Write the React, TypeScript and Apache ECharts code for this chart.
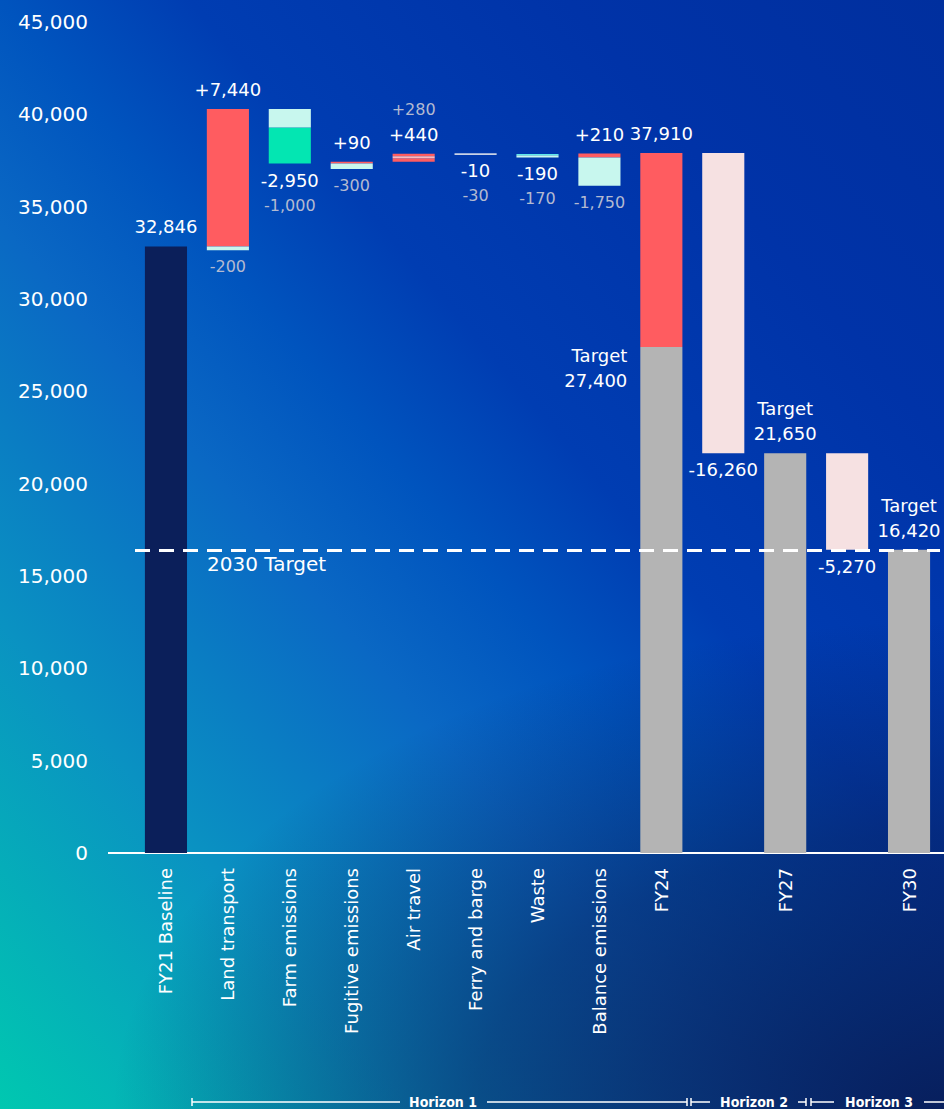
import React, { useEffect, useRef } from "react";
import * as echarts from "echarts";

// ---------- DATA ----------
const categories = [
  "FY21 Baseline",
  "Land transport",
  "Farm emissions",
  "Fugitive emissions",
  "Air travel",
  "Ferry and barge",
  "Waste",
  "Balance emissions",
  "FY24",
  "",
  "FY27",
  "",
  "FY30",
];

const yMax = 45000;
const yStep = 5000;

// segments: [categoryIndex, low, high]
const baselineBars = [[0, 0, 32846]];
const increaseBars = [
  [1, 32846, 40286],
  [3, 37336, 37426],
  [4, 37426, 37626],
  [4, 37736, 37866],
  [7, 37666, 37876],
  [8, 27400, 37910],
];
const increaseSubBars = [[4, 37626, 37736]];
const decreaseBars = [[2, 37336, 39286]];
const decreaseSubBars = [
  [1, 32646, 32846],
  [2, 39286, 40286],
  [3, 37036, 37336],
  [6, 37666, 37786],
  [7, 36126, 37666],
];
const wasteTopBars = [[6, 37786, 37856]];
const ferryBars = [[5, 37826, 37866]];
const targetBars = [
  [8, 0, 27400],
  [10, 0, 21650],
  [12, 0, 16420],
];
const gapBars = [
  [9, 21650, 37910],
  [11, 16420, 21650],
];
const target2030 = 16420;
const target2030Name = "2030 Target";

// labels: [categoryIndex, anchorValue, text, placement, tone]
const valueLabels: [number, number, string, string, string][] = [
  [0, 32846, "32,846", "above", "main"],
  [1, 40286, "+7,440", "above", "main"],
  [1, 32646, "-200", "below", "sub"],
  [2, 37336, "-2,950", "below", "main"],
  [2, 37336, "-1,000", "below2", "sub"],
  [3, 37426, "+90", "above", "main"],
  [3, 37036, "-300", "below", "sub"],
  [4, 37866, "+440", "above", "main"],
  [4, 37866, "+280", "above2", "sub"],
  [5, 37826, "-10", "below", "main"],
  [5, 37826, "-30", "below2", "sub"],
  [6, 37666, "-190", "below", "main"],
  [6, 37666, "-170", "below2", "sub"],
  [7, 37876, "+210", "above", "main"],
  [7, 36126, "-1,750", "below", "sub"],
  [8, 37910, "37,910", "above", "main"],
  [8, 27400, "Target\n27,400", "left", "main"],
  [9, 21650, "-16,260", "below", "main"],
  [10, 21650, "Target\n21,650", "above", "main"],
  [11, 16420, "-5,270", "below", "main"],
  [12, 16420, "Target\n16,420", "above", "main"],
];

const horizonNames = ["Horizon 1", "Horizon 2", "Horizon 3"];

// ---------- STYLE ----------
const FONT = '"DejaVu Sans", "Noto Sans", sans-serif';
const BAR_RATIO = 0.68;
const C = {
  navy: "#0b1f5a",
  red: "#ff5c60",
  redSub: "#ffb9bb",
  green: "#03e6b2",
  pale: "#c8f7ee",
  cyan: "#5fe9ea",
  ferry: "#c9d2e6",
  gray: "#b4b4b4",
  gap: "#f6e1e2",
  white: "#ffffff",
  subText: "#b3bad1",
};

function barRenderer(color: string, minH = 0) {
  return (params: any, api: any) => {
    const c = api.value(0);
    const lo = api.coord([c, api.value(1)]);
    const hi = api.coord([c, api.value(2)]);
    const w = api.size([1, 0])[0] * BAR_RATIO;
    let h = lo[1] - hi[1];
    let y = hi[1];
    if (h < minH) {
      y = hi[1] - (minH - h) / 2;
      h = minH;
    }
    return {
      type: "rect",
      shape: { x: lo[0] - w / 2, y, width: w, height: h },
      style: { fill: color },
    };
  };
}

function barSeries(name: string, data: number[][], color: string, minH = 0, extra: any = {}) {
  return {
    type: "custom",
    name,
    data,
    encode: { x: 0, y: [1, 2] },
    renderItem: barRenderer(color, minH),
    silent: true,
    z: 2,
    ...extra,
  };
}

function labelRenderer(params: any, api: any) {
  const [cat, anchor, text, place, tone] = valueLabels[params.dataIndex];
  const p = api.coord([cat, anchor]);
  const bw = api.size([1, 0])[0] * BAR_RATIO;
  let x = p[0];
  let y = p[1];
  let align = "center";
  let va = "top";
  if (place === "above") {
    y = p[1] - 7;
    va = "bottom";
  } else if (place === "above2") {
    y = p[1] - 32;
    va = "bottom";
  } else if (place === "below") {
    y = p[1] + 4;
  } else if (place === "below2") {
    y = p[1] + 29;
  } else if (place === "left") {
    x = p[0] - bw / 2 - 13;
    y = p[1] - 4;
    align = "right";
  }
  const size = tone === "sub" ? 16 : 18;
  return {
    type: "text",
    x,
    y,
    style: {
      text,
      fill: tone === "sub" ? C.subText : C.white,
      fontSize: size,
      fontFamily: FONT,
      align,
      textAlign: align,
      verticalAlign: va,
      textVerticalAlign: va,
      lineHeight: 25,
    },
  };
}

export default function App() {
  const ref = useRef<HTMLDivElement>(null);

  useEffect(() => {
    document.body.style.margin = "0";
    const chart = echarts.init(ref.current!, undefined, { renderer: "svg" });

    const hy = 1102;
    const lineStyle = { stroke: "#ffffff", lineWidth: 1.5 };
    const hLine = (x1: number, x2: number) => ({
      type: "line",
      shape: { x1, y1: hy, x2, y2: hy },
      style: lineStyle,
      silent: true,
    });
    const hTick = (x: number) => ({
      type: "line",
      shape: { x1: x, y1: hy - 4, x2: x, y2: hy + 4 },
      style: lineStyle,
      silent: true,
    });
    const hText = (x: number, t: string) => ({
      type: "text",
      x,
      y: hy,
      style: {
        text: t,
        fill: "#ffffff",
        fontSize: 14,
        fontWeight: "bold",
        fontFamily: '"DejaVu Sans Condensed", "DejaVu Sans", sans-serif',
        align: "center",
        verticalAlign: "middle",
      },
      silent: true,
    });

    chart.setOption({
      animation: false,
      backgroundColor: "transparent",
      grid: { left: 135, right: 4, top: 22, bottom: 256, containLabel: false },
      xAxis: {
        type: "category",
        data: categories,
        axisLine: { show: false },
        axisTick: { show: false },
        splitLine: { show: false },
        axisLabel: {
          rotate: 90,
          interval: 0,
          color: "#ffffff",
          fontSize: 18,
          fontFamily: FONT,
          margin: 15,
        },
      },
      yAxis: {
        type: "value",
        min: 0,
        max: yMax,
        interval: yStep,
        axisLine: { show: false },
        axisTick: { show: false },
        splitLine: { show: false },
        axisLabel: {
          color: "#ffffff",
          fontSize: 20,
          fontFamily: FONT,
          margin: 47,
          formatter: (v: number) => v.toLocaleString("en-US"),
        },
      },
      graphic: [
        {
          type: "line",
          shape: { x1: 108, y1: 853, x2: 944, y2: 853 },
          style: { stroke: "#ffffff", lineWidth: 2 },
          silent: true,
          z: 1,
        },
        hTick(192),
        hLine(192, 400),
        hText(443, horizonNames[0]),
        hLine(487, 687),
        hTick(687),
        hTick(691),
        hLine(691, 710),
        hText(754, horizonNames[1]),
        hLine(798, 806),
        hTick(806),
        hTick(811),
        hLine(811, 834),
        hText(879, horizonNames[2]),
        hLine(924, 944),
      ],
      series: [
        barSeries("FY21 Baseline", baselineBars, C.navy),
        barSeries("Increase", increaseBars, C.red),
        barSeries("Increase (part)", increaseSubBars, C.redSub),
        barSeries("Decrease", decreaseBars, C.green),
        barSeries("Decrease (part)", decreaseSubBars, C.pale),
        barSeries("Waste", wasteTopBars, C.cyan),
        barSeries("Ferry and barge", ferryBars, C.ferry, 1.6),
        barSeries("Target", targetBars, C.gray, 0, {
          markLine: {
            silent: true,
            symbol: "none",
            z: 5,
            data: [{ yAxis: target2030 }],
            lineStyle: { color: "#ffffff", type: [15, 9], width: 3, opacity: 1 },
            label: {
              show: true,
              formatter: target2030Name,
              position: "insideStartBottom",
              color: "#ffffff",
              fontSize: 20,
              fontFamily: FONT,
              distance: [72, 4],
            },
          },
        }),
        barSeries("Required reduction", gapBars, C.gap),
        {
          type: "custom",
          name: "labels",
          data: valueLabels.map((l) => [l[0], l[1]]),
          encode: { x: 0, y: 1 },
          renderItem: labelRenderer,
          silent: true,
          z: 10,
        },
      ],
    });

    return () => chart.dispose();
  }, []);

  return (
    <div
      style={{
        position: "fixed",
        left: 0,
        top: 0,
        width: 944,
        height: 1109,
        background:
          "radial-gradient(110% 55% at 100% 100%, rgba(8,28,88,0.95) 0%, rgba(8,28,88,0.55) 45%, rgba(8,28,88,0) 80%), linear-gradient(to top right, #00c8b0 0%, #0a92c2 22%, #0a68c4 40%, #0054be 50%, #003db2 60%, #0033a8 80%, #002f9e 100%)",
      }}
    >
      <div ref={ref} style={{ width: 944, height: 1109 }} />
    </div>
  );
}
